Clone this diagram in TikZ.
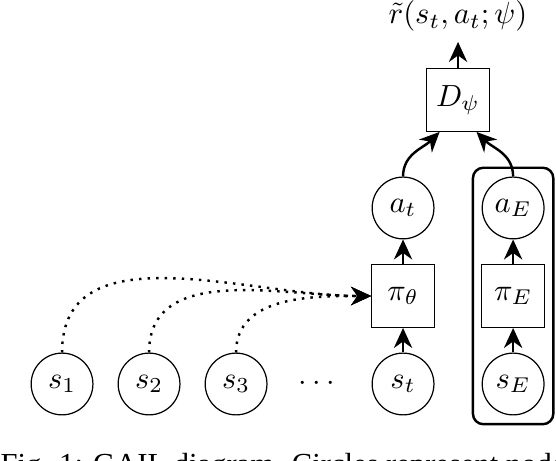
\documentclass[tikz,border=0pt]{standalone}
\usepackage{fontspec}
\newfontfamily\capfont{Liberation Serif}
\usetikzlibrary{arrows.meta,fit}
\begin{document}
\begin{tikzpicture}[
    state/.style={circle, draw, minimum size=0.71cm, inner sep=0pt},
    func/.style={rectangle, draw, minimum size=0.72cm, inner sep=0pt},
    flow/.style={-{Stealth[length=2.3mm,width=2.1mm]}, thick},
    ]

    \clip (0,0) rectangle (6.39,5.287);

    \foreach \x/\i in {0.713/1,1.713/2,2.713/3}
    \node[state] (s\i) at (\x,0.874) {$s_\i$};
    \node (dots) at (3.64,0.874) {$\cdots$};
    \node[state] (st) at (4.632,0.874) {$s_t$};
    \node[state] (sE) at (5.897,0.874) {$s_E$};

    \node[func] (pi) at (4.632,1.885) {$\pi_\theta$};
    \node[func] (piE) at (5.897,1.885) {$\pi_E$};
    \node[state] (at) at (4.632,2.897) {$a_t$};
    \node[state] (aE) at (5.897,2.897) {$a_E$};
    \node[func] (D) at (5.264,4.138) {$D_\psi$};
    \node (r) at (5.264,5.105) {$\tilde{r}(s_t,a_t;\psi)$};

    \node[draw, thick, rounded corners=0.12cm, fit=(aE)(sE), inner sep=0.1cm] (expert) {};

    \draw[flow] (st) -- (pi);
    \draw[flow] (pi) -- (at);
    \draw[flow] (sE) -- (piE);
    \draw[flow] (piE) -- (aE);
    \draw[flow] (at.north) to[out=90,in=-135] (D.-120);
    \draw[flow] (aE.north) to[out=90,in=-45] (D.-60);
    \draw[flow] (D) -- (r);

    \foreach \i in {1,2,3}
    \draw[flow, dotted] (s\i.north) to[out=90,in=180] (pi.west);

    % caption, cut off by the frame
    \node[anchor=base west, inner sep=0pt] (caption) at (0,-0.17) {\capfont Fig. 1: GAIL diagram. Circles represent nodes and};

\end{tikzpicture}
\end{document}
